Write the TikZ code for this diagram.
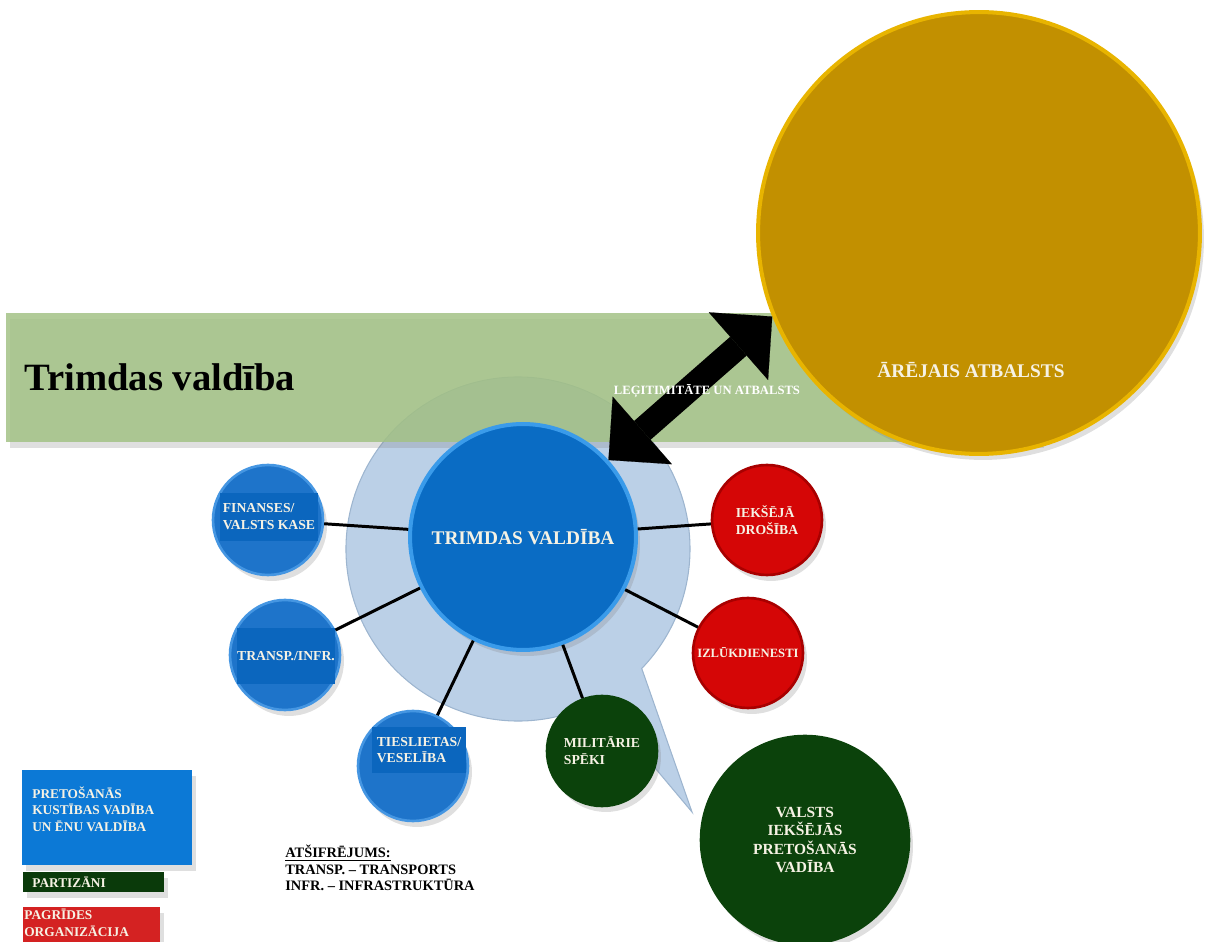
\documentclass[tikz,border=0pt]{standalone}
\usepackage{fontspec}
\setmainfont{Liberation Serif}
\usepackage{xcolor}
\usepackage{tikz}
\usetikzlibrary{shapes,arrows.meta,positioning,calc,shadows}

\definecolor{bandgreen}{HTML}{A3C286}
\definecolor{bubblefill}{HTML}{BBD0E7}
\definecolor{bubbleedge}{HTML}{9DB5CF}
\definecolor{mainblue}{HTML}{0A6CC4}
\definecolor{mainrim}{HTML}{3A9BEA}
\definecolor{satblue}{HTML}{1E74CA}
\definecolor{satrim}{HTML}{4596E2}
\definecolor{boxblue}{HTML}{0B66BE}
\definecolor{satred}{HTML}{D50606}
\definecolor{redrim}{HTML}{A80000}
\definecolor{dkgreen}{HTML}{0B420B}
\definecolor{goldfill}{HTML}{C29000}
\definecolor{goldrim}{HTML}{E8B400}
\definecolor{legblue}{HTML}{0C79D6}
\definecolor{leggreen}{HTML}{0A3A0A}
\definecolor{legred}{HTML}{D42222}
\definecolor{cream}{HTML}{F6F2E4}

\newcommand{\txtsize}[2]{\fontsize{#1}{#2}\selectfont}

\begin{document}
\begin{tikzpicture}[x=0.02cm, y=0.02cm,
        shade/.style={drop shadow={opacity=0.25, shadow xshift=0.08cm, shadow yshift=-0.12cm}},
        sat/.style={circle, minimum size=2.2cm, inner sep=0pt, line width=1.5pt, text=cream, align=left, font=\bfseries\txtsize{7.8}{9.6}, shade},
        bluesat/.style={sat, fill=satblue, draw=satrim},
        redsat/.style={sat, fill=satred, draw=redrim},
        greensat/.style={sat, fill=dkgreen, draw=dkgreen},
        mainc/.style={circle, minimum size=4.52cm, inner sep=0pt, fill=mainblue, draw=mainrim, line width=2.3pt, text=cream, font=\bfseries\txtsize{11}{13}, shade},
        goldc/.style={circle, minimum size=8.84cm, inner sep=0pt, fill=goldfill, draw=goldrim, line width=2.3pt, shade},
        txtbox/.style={rectangle, fill=boxblue, text=cream, align=left, inner sep=0pt, font=\bfseries\txtsize{7.8}{9.6}},
        spoke/.style={draw, line width=1.7pt},
        bigarrow/.style={draw, line width=0.5cm, {Triangle[width=1.8cm, length=0.9cm, line width=0.1pt]}-{Triangle[width=1.8cm, length=0.9cm, line width=0.1pt]}},
        legbox/.style={rectangle, anchor=north west, text=cream, align=left, inner ysep=0pt, font=\bfseries\txtsize{7.6}{9.4}, shade}]

        \useasboundingbox (0,0) rectangle (1211,-942);

        \filldraw[fill=bubblefill, draw=bubbleedge, line width=0.6pt] (518,-549) ++(-62:172) arc[start angle=-62, end angle=-404, radius=172] -- (692,-812) -- cycle;
        \path[fill=bandgreen, fill opacity=0.85, shade] (6,-313) rectangle (1040,-442);

        \node[anchor=west, font=\bfseries\txtsize{22}{26}] (title) at (18,-377) {Trimdas valdība};

        \node[goldc] (arejais) at (979,-233) {};
        \node[text=cream, font=\bfseries\txtsize{11}{13}] (arejaistxt) at (971,-370) {ĀRĒJAIS ATBALSTS};

        \node[bluesat] (finanses) at (268,-520) {};
        \node[txtbox, minimum width=1.96cm, minimum height=0.98cm] (finansestxt) at (269,-517) {FINANSES/\\VALSTS KASE};
        \node[bluesat] (transp) at (285,-655) {};
        \node[txtbox, minimum width=1.56cm, minimum height=1.14cm] (transptxt) at (286,-656) {TRANSP./INFR.};
        \node[bluesat] (tieslietas) at (413,-766) {};
        \node[txtbox, minimum width=1.9cm, minimum height=0.92cm] (tieslietastxt) at (419,-750) {TIESLIETAS/\\VESELĪBA};
        \node[greensat] (militarie) at (602,-751) {MILITĀRIE\\SPĒKI};
        \node[redsat] (drosiba) at (767,-520) {IEKŠĒJĀ\\DROŠĪBA};
        \node[redsat, font=\bfseries\txtsize{7.2}{9}] (izlukd) at (748,-653) {IZLŪKDIENESTI};
        \node[greensat, minimum size=4.16cm, align=center, font=\bfseries\txtsize{8.8}{10.4}] (valsts) at (805,-840) {VALSTS\\IEKŠĒJĀS\\PRETOŠANĀS\\VADĪBA};

        \node[mainc] (trimdas) at (523,-537) {TRIMDAS VALDĪBA};

        \path[spoke] (trimdas) -- (finanses);
        \path[spoke] (trimdas) -- (transp);
        \path[spoke] (trimdas) -- (tieslietas);
        \path[spoke] (trimdas) -- (militarie);
        \path[spoke] (trimdas) -- (drosiba);
        \path[spoke] (trimdas) -- (izlukd);

        \draw[bigarrow] (trimdas.42) -- (arejais.202);
        \node[text=white, font=\bfseries\txtsize{7.2}{8}] (legit) at (707,-391) {LEĢITIMITĀTE UN ATBALSTS};

        \node[legbox, fill=legblue, inner xsep=0.2cm] (pretosanas) at (22,-770) {\parbox[c][1.9cm][t]{3.0cm}{\raggedright\vspace{0.33cm}PRETOŠANĀS\\KUSTĪBAS VADĪBA\\UN ĒNU VALDĪBA}};
        \node[legbox, fill=leggreen, minimum width=2.82cm, minimum height=0.4cm, text width=2.46cm, inner xsep=0.18cm] (partizani) at (23,-872) {PARTIZĀNI};
        \node[legbox, fill=legred, inner xsep=0.02cm, font=\bfseries\txtsize{7.6}{9.6}] (pagrides) at (23,-907) {\parbox[c][1.0cm][t]{2.7cm}{\raggedright\vspace{0.03cm}PAGRĪDES\\ORGANIZĀCIJA}};

        \node[anchor=north west, align=left, inner sep=0pt, font=\bfseries\txtsize{8.2}{9.4}] (atsifr) at (285,-845) {\underline{ATŠIFRĒJUMS:}\\TRANSP. – TRANSPORTS\\INFR. – INFRASTRUKTŪRA};

\end{tikzpicture}
\end{document}
